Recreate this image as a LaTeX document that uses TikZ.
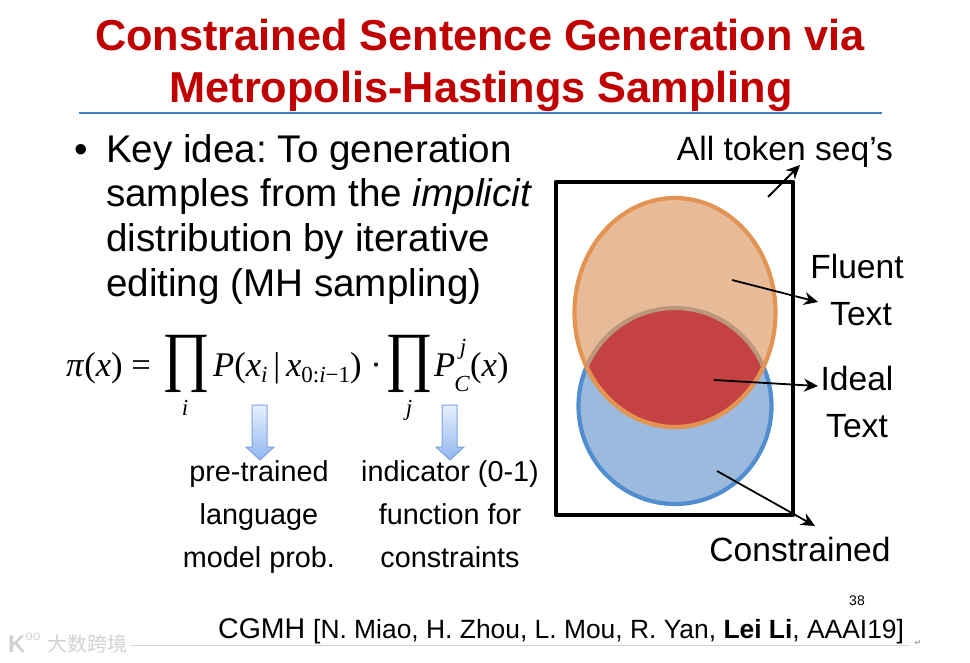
\documentclass[tikz,border=0pt]{standalone}
\usepackage{fontspec}
\setmainfont{Liberation Sans}
\newfontfamily\mathserif{Liberation Serif}
\newfontfamily\cjk{Noto Sans CJK SC}
\newfontfamily\symb{DejaVu Sans}
\usetikzlibrary{arrows.meta}
\definecolor{titlered}{RGB}{192,0,0}
\definecolor{rulecolor}{RGB}{62,129,196}
\definecolor{fluentfill}{RGB}{232,187,152}
\definecolor{fluentline}{RGB}{228,148,82}
\definecolor{constrfill}{RGB}{155,186,221}
\definecolor{constrline}{RGB}{80,142,208}
\definecolor{idealfill}{RGB}{196,67,66}
\definecolor{blockline}{RGB}{125,163,224}
\definecolor{blocktop}{RGB}{232,239,252}
\definecolor{blockbottom}{RGB}{146,182,240}
\tikzset{
  title text/.style={anchor=base, font=\fontsize{43.3}{43.3}\selectfont\bfseries, color=titlered},
  body text/.style={anchor=base west, inner sep=0pt, font=\fontsize{38.6}{38.6}\selectfont},
  side text/.style={anchor=base, inner sep=0pt, font=\fontsize{33.6}{33.6}\selectfont},
  note text/.style={anchor=base, inner sep=0pt, font=\fontsize{28.8}{28.8}\selectfont},
  formula/.style={inner sep=0pt, font=\fontsize{34.6}{34.6}\selectfont\mathserif},
  small formula/.style={inner sep=0pt, font=\fontsize{23}{23}\selectfont\mathserif\itshape},
  big formula/.style={inner sep=0pt, font=\fontsize{66}{66}\selectfont\mathserif},
  pointer/.style={-{Stealth[length=14pt, width=13pt]}, line width=1.8pt},
  block arrow/.style={draw=blockline, line width=1pt, top color=blocktop, bottom color=blockbottom}
}
\begin{document}
\frenchspacing
\begin{tikzpicture}[x=1pt, y=-1pt]
    \useasboundingbox (0,0) rectangle (970,662);

    % title
    \node[title text] (title one) at (480,50) {Constrained Sentence Generation via};
    \node[title text] (title two) at (481,102) {Metropolis-Hastings Sampling};
    \draw[rulecolor, line width=2.8pt] (79,113) -- (882,113);

    % key idea
    \node[body text] (bullet) at (74,162) {•};
    \node[body text] (idea one) at (106,162) {Key idea: To generation};
    \node[body text] (idea two) at (106,206) {samples from the \textit{implicit}};
    \node[body text] (idea three) at (106,251) {distribution by iterative};
    \node[body text] (idea four) at (106,296) {editing (MH sampling)};

    % formula
    \node[formula, anchor=base west] (pi part) at (66,376) {\textit{π}(\textit{x}) =};
    \node[big formula] (prod i) at (186,364) {\scalebox{0.88}[1]{∏}};
    \node[small formula] (index i) at (185,408) {i};
    \node[formula, anchor=base west] (cond part) at (213,376) {\textit{P}(\textit{x}\raisebox{-6pt}{\fontsize{23}{23}\selectfont\textit{i}}\,|\,\textit{x}\raisebox{-6pt}{\fontsize{23}{23}\selectfont 0:\textit{i}−1}) ·};
    \node[big formula] (prod j) at (409,364) {\scalebox{0.88}[1]{∏}};
    \node[small formula] (index j) at (409,410) {j};
    \node[formula, anchor=base west] (p part) at (434,376) {\textit{P}};
    \node[small formula] (sup j) at (463,349) {j};
    \node[small formula] (sub c) at (462,384) {C};
    \node[formula, anchor=base west] (x part) at (470,376) {(\textit{x})};

    % block arrows
    \shade[block arrow] (252,405) -- (267,405) -- (267,447) -- (274,447) -- (260,460) -- (246,447) -- (252,447) -- cycle;
    \shade[block arrow] (442,405) -- (457,405) -- (457,447) -- (464,447) -- (450,460) -- (436,447) -- (442,447) -- cycle;

    % notes below the formula
    \node[note text] (lang one) at (259,481) {pre-trained};
    \node[note text] (lang two) at (259,524) {language};
    \node[note text] (lang three) at (259,567) {model prob.};
    \node[note text] (ind one) at (450,481) {indicator (0-1)};
    \node[note text] (ind two) at (450,524) {function for};
    \node[note text] (ind three) at (450,567) {constraints};

    % venn diagram
    \filldraw[fill=constrfill, draw=constrline, line width=4.2pt] (675,406) ellipse (96.5 and 98);
    \filldraw[fill=fluentfill, draw=fluentline, line width=4.2pt] (675,312.5) ellipse (100.5 and 114.5);
    \begin{scope}
      \clip (675,406) ellipse (96.5 and 98);
      \fill[idealfill] (675,312.5) ellipse (99 and 113);
      \draw[fluentline, line width=4.2pt] (675,312.5) ellipse (100.5 and 114.5);
    \end{scope}
    \begin{scope}
      \clip (675,312.5) ellipse (99 and 113);
      \draw[black!20!fluentfill, line width=4.2pt] (675,406) ellipse (96.5 and 98);
    \end{scope}
    \draw[line width=4.6pt, line join=round] (556,182) rectangle (793,515);

    % labels around the diagram
    \node[side text] (all label) at (785,160) {All token seq’s};
    \node[side text] (fluent label) at (857,278) {Fluent};
    \node[side text] (fluent text) at (861,325) {Text};
    \node[side text] (ideal label) at (857,390) {Ideal};
    \node[side text] (ideal text) at (857,437) {Text};
    \node[side text] (constr label) at (800,561) {Constrained};

    % pointers
    \coordinate (all from) at (768,197);
    \coordinate (all to) at (800,165);
    \coordinate (fluent from) at (732,280);
    \coordinate (fluent to) at (818,302);
    \coordinate (ideal from) at (714,380);
    \coordinate (ideal to) at (818,386);
    \coordinate (constr from) at (717,471);
    \coordinate (constr to) at (815,526);
    \draw[pointer] (all from) -- (all to);
    \draw[pointer] (fluent from) -- (fluent to);
    \draw[pointer] (ideal from) -- (ideal to);
    \draw[pointer] (constr from) -- (constr to);

    % footer
    \node[anchor=base, inner sep=0pt, font=\fontsize{14}{14}\selectfont] (page no) at (857,605) {38};
    \node[anchor=base west, inner sep=0pt, font=\fontsize{28.5}{28.5}\selectfont] (cite) at (218,638) {CGMH {\fontsize{26.4}{26.4}\selectfont [N. Miao, H. Zhou, L. Mou, R. Yan, \textbf{Lei Li}, AAAI19]}};
    \draw[black!15!yellow!15!gray!40, line width=0.8pt] (130,645) -- (910,645);
    \node[font=\fontsize{8}{8}\selectfont\symb, gray] (return mark) at (918,643) {↵};
    \node[anchor=west, inner sep=0pt, font=\fontsize{20}{20}\selectfont\cjk, gray!35] (mark text) at (47,644) {大数跨境};
    \node[anchor=west, inner sep=0pt, font=\fontsize{24}{24}\selectfont\bfseries, gray!35] (mark logo) at (8,644) {K};
    \node[anchor=west, inner sep=0pt, font=\fontsize{14}{14}\selectfont, gray!35] (mark loop) at (25,637) {oo};
\end{tikzpicture}
\end{document}
